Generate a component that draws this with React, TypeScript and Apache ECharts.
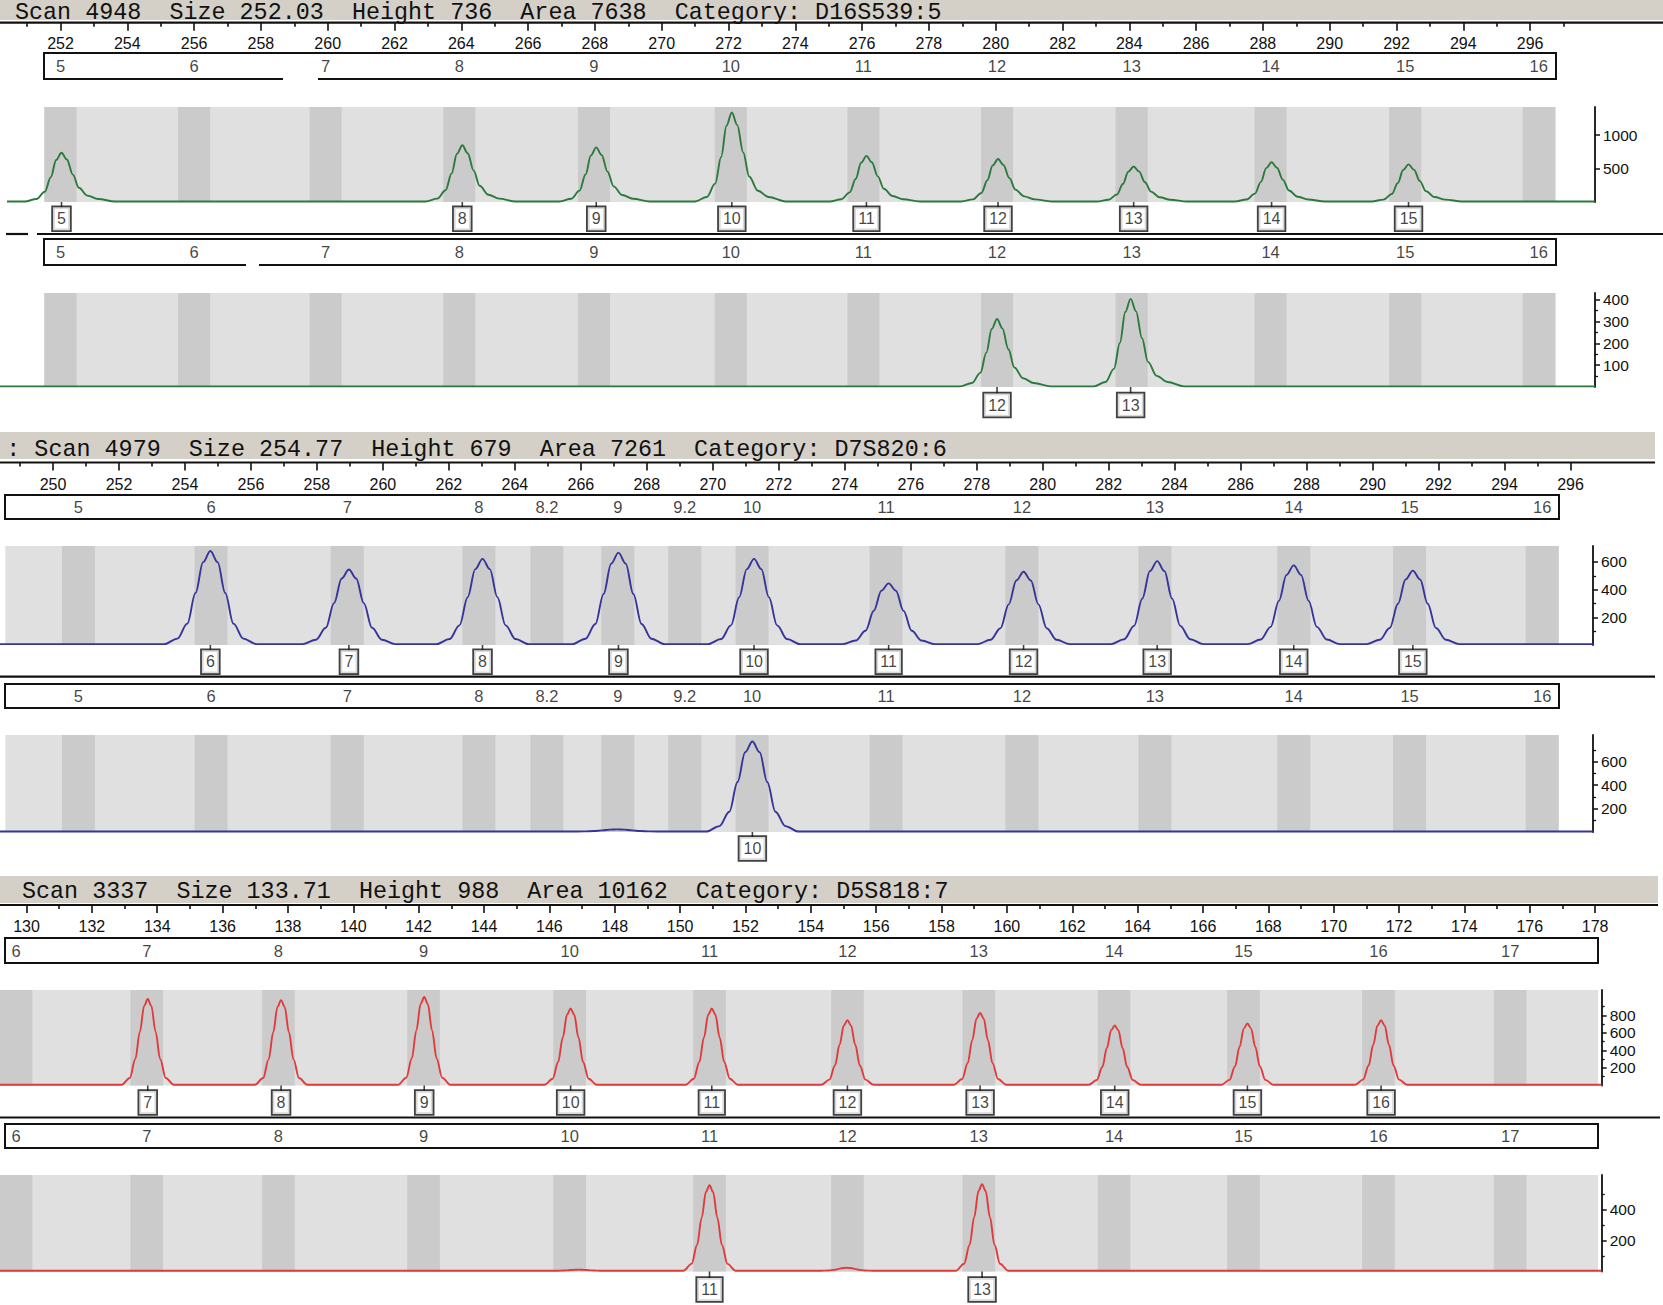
import React, { useEffect, useRef } from "react";
import * as echarts from "echarts";

const W = 1663;
const H = 1305;

// ---------------- DATA ----------------
// Panel 1 – D16S539 (green)
const P1_HEADER = "Scan 4948  Size 252.03  Height 736  Area 7638  Category: D16S539:5";
const P1_SIZE_TICKS = [252, 254, 256, 258, 260, 262, 264, 266, 268, 270, 272, 274, 276, 278, 280, 282, 284, 286, 288, 290, 292, 294, 296];
const P1_SIZE_MINOR = [251, 253, 255, 257, 259, 261, 263, 265, 267, 269, 271, 273, 275, 277, 279, 281, 283, 285, 287, 289, 291, 293, 295, 297];
const P1_BIN_NAMES = ["5", "6", "7", "8", "9", "10", "11", "12", "13", "14", "15", "16"];
const P1_BIN_SIZES = [252.0, 256.0, 259.94, 263.94, 267.97, 272.07, 276.04, 280.04, 284.07, 288.23, 292.26, 296.26];
const P1A_PEAK_NAMES = ["5", "8", "9", "10", "11", "12", "13", "14", "15"];
const P1A_PEAK_SIZES = [252.03, 264.03, 268.04, 272.1, 276.13, 280.07, 284.13, 288.26, 292.36];
const P1A_PEAK_HEIGHTS = [736, 846, 815, 1337, 688, 641, 530, 593, 561];
const P1A_Y_TICKS = [500, 1000];
const P1A_Y_MINOR: number[] = [];
const P1B_PEAK_NAMES = ["12", "13"];
const P1B_PEAK_SIZES = [280.04, 284.04];
const P1B_PEAK_HEIGHTS = [312, 404];
const P1B_Y_TICKS = [100, 200, 300, 400];
const P1B_Y_MINOR = [50, 150, 250, 350];

// Panel 2 – D7S820 (blue)
const P2_HEADER = ": Scan 4979  Size 254.77  Height 679  Area 7261  Category: D7S820:6";
const P2_SIZE_TICKS = [250, 252, 254, 256, 258, 260, 262, 264, 266, 268, 270, 272, 274, 276, 278, 280, 282, 284, 286, 288, 290, 292, 294, 296];
const P2_SIZE_MINOR = [249, 251, 253, 255, 257, 259, 261, 263, 265, 267, 269, 271, 273, 275, 277, 279, 281, 283, 285, 287, 289, 291, 293, 295];
const P2_BIN_NAMES = ["5", "6", "7", "8", "8.2", "9", "9.2", "10", "11", "12", "13", "14", "15", "16"];
const P2_BIN_SIZES = [250.77, 254.79, 258.92, 262.91, 264.97, 267.12, 269.15, 271.19, 275.25, 279.37, 283.4, 287.61, 291.12, 295.14];
const P2A_PEAK_NAMES = ["6", "7", "8", "9", "10", "11", "12", "13", "14", "15"];
const P2A_PEAK_SIZES = [254.77, 258.97, 263.02, 267.14, 271.25, 275.33, 279.42, 283.47, 287.61, 291.22];
const P2A_PEAK_HEIGHTS = [679, 545, 622, 667, 622, 445, 529, 606, 575, 537];
const P2A_Y_TICKS = [200, 400, 600];
const P2A_Y_MINOR = [100, 300, 500];
const P2B_PEAK_NAMES = ["10"];
const P2B_PEAK_SIZES = [271.2];
const P2B_PEAK_HEIGHTS = [771];
const P2B_BUMP_SIZES = [267.1];
const P2B_BUMP_HEIGHTS = [22];
const P2B_Y_TICKS = [200, 400, 600];
const P2B_Y_MINOR = [100, 300, 500, 700];

// Panel 3 – D5S818 (red)
const P3_HEADER = "Scan 3337  Size 133.71  Height 988  Area 10162  Category: D5S818:7";
const P3_SIZE_TICKS = [130, 132, 134, 136, 138, 140, 142, 144, 146, 148, 150, 152, 154, 156, 158, 160, 162, 164, 166, 168, 170, 172, 174, 176, 178];
const P3_SIZE_MINOR = [131, 133, 135, 137, 139, 141, 143, 145, 147, 149, 151, 153, 155, 157, 159, 161, 163, 165, 167, 169, 171, 173, 175, 177];
const P3_BIN_NAMES = ["6", "7", "8", "9", "10", "11", "12", "13", "14", "15", "16", "17"];
const P3_BIN_SIZES = [129.68, 133.68, 137.71, 142.15, 146.62, 150.9, 155.12, 159.14, 163.28, 167.24, 171.37, 175.4];
const P3A_PEAK_NAMES = ["7", "8", "9", "10", "11", "12", "13", "14", "15", "16"];
const P3A_PEAK_SIZES = [133.71, 137.79, 142.17, 146.65, 150.97, 155.12, 159.18, 163.3, 167.36, 171.45];
const P3A_PEAK_HEIGHTS = [988, 975, 1011, 879, 879, 745, 830, 685, 709, 745];
const P3A_Y_TICKS = [200, 400, 600, 800];
const P3A_Y_MINOR = [100, 300, 500, 700, 900];
const P3B_PEAK_NAMES = ["11", "13"];
const P3B_PEAK_SIZES = [150.9, 159.24];
const P3B_PEAK_HEIGHTS = [557, 564];
const P3B_BUMP_SIZES = [146.9, 155.1];
const P3B_BUMP_HEIGHTS = [12, 24];
const P3B_Y_TICKS = [200, 400];
const P3B_Y_MINOR = [100, 300, 500];

// Peak shapes: [offset in bp, fraction of peak height]
const GREEN_PROFILE = [[-1.1, 0], [-0.75, 0.05], [-0.5, 0.2], [-0.32, 0.5], [-0.16, 0.85], [0, 1], [0.16, 0.86], [0.34, 0.55], [0.52, 0.28], [0.78, 0.12], [1.1, 0.05], [1.6, 0]];
const BLUE_PROFILE = [[-1.4, 0], [-1.0, 0.06], [-0.7, 0.22], [-0.45, 0.55], [-0.22, 0.88], [0, 1], [0.22, 0.88], [0.45, 0.55], [0.7, 0.22], [1.0, 0.06], [1.4, 0]];
const RED_PROFILE = [[-0.8, 0], [-0.55, 0.08], [-0.38, 0.3], [-0.24, 0.62], [-0.11, 0.92], [0, 1], [0.11, 0.92], [0.24, 0.62], [0.38, 0.3], [0.55, 0.08], [0.8, 0]];

// ---------------- STYLE / LAYOUT ----------------
const AX = "#111";
const FONT = '"Liberation Sans", Arial, sans-serif';
const MONO = '23.4px "Liberation Mono", "DejaVu Sans Mono", monospace';
const BAR = "#d4d0c8";
const LIGHT = "#e0e0e0";
const DARK = "#cbcbcb";
const plain = (val: number) => String(val);

function buildTrace(start: number, end: number, base: number, sizes: number[], heights: number[], profile: number[][]) {
  const pts: number[][] = [[start, base]];
  const peaks = sizes.map((s, i) => [s, heights[i]]).sort((a, b) => a[0] - b[0]);
  for (const [s, h] of peaks) {
    for (const [dx, f] of profile) {
      const x = s + dx;
      if (x > start && x < end) pts.push([x, base + f * (h - base)]);
    }
  }
  pts.push([end, base]);
  return pts;
}

function buildOption() {
  const grid: any[] = [];
  const xAxis: any[] = [];
  const yAxis: any[] = [];
  const series: any[] = [];
  const graphic: any[] = [];

  const addGrid = (left: number, top: number, width: number, height: number, extra: any = {}) => {
    grid.push({ left, top, width, height, containLabel: false, outerBoundsMode: "none", ...extra });
    return grid.length - 1;
  };
  const hiddenX = (gi: number, min: number, max: number) => {
    xAxis.push({ gridIndex: gi, type: "value", min, max, show: false });
    return xAxis.length - 1;
  };
  const hiddenY = (gi: number, min: number, max: number) => {
    yAxis.push({ gridIndex: gi, type: "value", min, max, show: false });
    return yAxis.length - 1;
  };

  const panel = (cfg: any) => {
    const m = cfg.map;
    const v = (px: number) => m.v0 + (px - m.x0) / m.ppu;

    // header bar + text + axis line
    graphic.push({ type: "rect", z: 1, shape: { x: 0, y: cfg.barTop, width: cfg.barW, height: cfg.barBottom - cfg.barTop }, style: { fill: BAR } });
    graphic.push({ type: "text", z: 2, x: cfg.headerX, y: cfg.headerY, style: { text: cfg.header.replace(/ /g, "\u00a0"), font: MONO, fill: AX, verticalAlign: "middle", align: "left" } });
    graphic.push({ type: "line", z: 3, shape: { x1: 0, y1: cfg.axisY, x2: cfg.barW, y2: cfg.axisY }, style: { stroke: AX, lineWidth: 2.2 } });

    // size axis (ticks + labels)
    const tg = addGrid(0, cfg.axisY - 1, W, 1);
    xAxis.push({
      gridIndex: tg, type: "value", min: v(0), max: v(W), position: "bottom",
      axisLine: { show: false }, splitLine: { show: false },
      axisTick: { show: true, customValues: cfg.ticks, length: 8, lineStyle: { color: AX, width: 1.6 } },
      axisLabel: { show: true, customValues: cfg.ticks, formatter: plain, margin: cfg.labelMargin, fontSize: 16, color: AX, fontFamily: FONT },
    });
    xAxis.push({
      gridIndex: tg, type: "value", min: v(0), max: v(W), position: "bottom",
      axisLine: { show: false }, splitLine: { show: false },
      axisTick: { show: true, customValues: cfg.minor, length: 4, lineStyle: { color: AX, width: 1.6 } },
      axisLabel: { show: false },
    });
    hiddenY(tg, 0, 1);

    const binBox = (top: number, bottom: number) => {
      const gi = addGrid(cfg.binL, top, cfg.binR - cfg.binL, bottom - top, { show: true, borderColor: AX, borderWidth: 2, backgroundColor: "#fff" });
      const xi = hiddenX(gi, v(cfg.binL), v(cfg.binR));
      const yi = hiddenY(gi, 0, 1);
      series.push({
        type: "scatter", xAxisIndex: xi, yAxisIndex: yi, symbol: "circle", symbolSize: 1, silent: true, clip: false,
        itemStyle: { color: "rgba(0,0,0,0)" },
        label: { show: true, position: "inside", formatter: "{b}", fontSize: 16.5, color: AX, fontFamily: FONT },
        data: cfg.binNames.map((n: string, i: number) => ({ name: n, value: [cfg.binSizes[i], 0.5] })),
      });
    };

    const plot = (p: any) => {
      const gi = addGrid(0, p.top, cfg.yAxisX, p.bottom - p.top);
      const xi = hiddenX(gi, v(0), v(cfg.yAxisX));
      yAxis.push({
        gridIndex: gi, type: "value", min: 0, max: p.ymax, position: "right",
        axisLine: { show: true, lineStyle: { color: AX, width: 1.8 } },
        axisTick: { show: true, customValues: p.yTicks, length: 5, lineStyle: { color: AX, width: 1.5 } },
        axisLabel: { show: true, customValues: p.yTicks, formatter: plain, margin: 8, fontSize: 15.5, color: AX, fontFamily: FONT },
        splitLine: { show: false },
      });
      const yi = yAxis.length - 1;
      yAxis.push({
        gridIndex: gi, type: "value", min: 0, max: p.ymax, position: "right",
        axisLine: { show: false }, splitLine: { show: false },
        axisTick: { show: p.yMinor.length > 0, customValues: p.yMinor, length: 3, lineStyle: { color: AX, width: 1.3 } },
        axisLabel: { show: false },
      });
      const sizes = p.sizes.concat(p.bumpSizes || []);
      const heights = p.heights.concat(p.bumpHeights || []);
      const areas: any[] = [[{ xAxis: v(cfg.grayL), itemStyle: { color: LIGHT } }, { xAxis: v(cfg.grayR) }]];
      cfg.binSizes.forEach((s: number) => {
        areas.push([{ xAxis: Math.max(s - cfg.binHalf, v(cfg.grayL)), itemStyle: { color: DARK } }, { xAxis: s + cfg.binHalf }]);
      });
      series.push({
        type: "line", xAxisIndex: xi, yAxisIndex: yi, showSymbol: false, symbol: "none", silent: true,
        smooth: 0.35, smoothMonotone: "x",
        lineStyle: { color: cfg.color, width: 1.9 },
        data: buildTrace(v(p.traceStartPx), v(cfg.yAxisX), p.base, sizes, heights, cfg.profile),
        markArea: { silent: true, label: { show: false }, data: areas },
        z: 3,
      });
      // allele call boxes
      const lg = addGrid(0, p.bottom, W, p.boxTop - p.bottom);
      const lxi = hiddenX(lg, v(0), v(W));
      const lyi = hiddenY(lg, 0, 1);
      series.push({
        type: "scatter", xAxisIndex: lxi, yAxisIndex: lyi, silent: true, clip: false,
        symbol: "rect", symbolSize: [1.6, p.boxTop - p.bottom], itemStyle: { color: AX },
        label: {
          show: true, position: "bottom", distance: 0, formatter: "{b}", fontSize: 16, lineHeight: 17,
          color: AX, fontFamily: FONT, backgroundColor: "#fff", borderColor: AX, borderWidth: 1.8, padding: [3, 4, 3, 4],
        },
        data: p.names.map((n: string, i: number) => ({ name: n, value: [p.sizes[i], 0.5] })),
      });
    };

    binBox(cfg.bin1[0], cfg.bin1[1]);
    plot(cfg.plotA);
    binBox(cfg.bin2[0], cfg.bin2[1]);
    plot(cfg.plotB);
  };

  // ---------- Panel 1 ----------
  panel({
    map: { x0: 60.5, v0: 252, ppu: 33.4 },
    barTop: 0, barBottom: 20, barW: W, header: P1_HEADER, headerX: 15, headerY: 12.5,
    axisY: 22.7, labelMargin: 12.5, ticks: P1_SIZE_TICKS, minor: P1_SIZE_MINOR,
    binL: 44, binR: 1556, grayL: 44, grayR: 1556, binHalf: 0.48,
    binNames: P1_BIN_NAMES, binSizes: P1_BIN_SIZES,
    bin1: [53, 79], bin2: [239, 265], yAxisX: 1595,
    color: "#2b7a3b", profile: GREEN_PROFILE,
    plotA: { top: 107, bottom: 202, ymax: 1418, yTicks: P1A_Y_TICKS, yMinor: P1A_Y_MINOR, names: P1A_PEAK_NAMES, sizes: P1A_PEAK_SIZES, heights: P1A_PEAK_HEIGHTS, base: 8, traceStartPx: 7, boxTop: 207.3 },
    plotB: { top: 293, bottom: 387, ymax: 431, yTicks: P1B_Y_TICKS, yMinor: P1B_Y_MINOR, names: P1B_PEAK_NAMES, sizes: P1B_PEAK_SIZES, heights: P1B_PEAK_HEIGHTS, base: 3, traceStartPx: 0, boxTop: 393.5 },
  });
  graphic.push({ type: "line", z: 3, shape: { x1: 6, y1: 234, x2: 28, y2: 234 }, style: { stroke: AX, lineWidth: 2.2 } });
  graphic.push({ type: "line", z: 3, shape: { x1: 37, y1: 234, x2: W, y2: 234 }, style: { stroke: AX, lineWidth: 2.2 } });
  graphic.push({ type: "rect", z: 100, shape: { x: 283, y: 77, width: 35, height: 4 }, style: { fill: "#fff" } });
  graphic.push({ type: "rect", z: 100, shape: { x: 246, y: 263, width: 13, height: 4 }, style: { fill: "#fff" } });

  // ---------- Panel 2 ----------
  panel({
    map: { x0: 53, v0: 250, ppu: 32.99 },
    barTop: 432, barBottom: 459, barW: 1655, header: P2_HEADER, headerX: 6.3, headerY: 449.7,
    axisY: 462.5, labelMargin: 13.5, ticks: P2_SIZE_TICKS, minor: P2_SIZE_MINOR,
    binL: 5, binR: 1559, grayL: 5.3, grayR: 1559, binHalf: 0.5,
    binNames: P2_BIN_NAMES, binSizes: P2_BIN_SIZES,
    bin1: [495, 519], bin2: [684, 708], yAxisX: 1593,
    color: "#34349a", profile: BLUE_PROFILE,
    plotA: { top: 546, bottom: 645, ymax: 715, yTicks: P2A_Y_TICKS, yMinor: P2A_Y_MINOR, names: P2A_PEAK_NAMES, sizes: P2A_PEAK_SIZES, heights: P2A_PEAK_HEIGHTS, base: 6, traceStartPx: 0, boxTop: 650.2 },
    plotB: { top: 735, bottom: 832, ymax: 826, yTicks: P2B_Y_TICKS, yMinor: P2B_Y_MINOR, names: P2B_PEAK_NAMES, sizes: P2B_PEAK_SIZES, heights: P2B_PEAK_HEIGHTS, bumpSizes: P2B_BUMP_SIZES, bumpHeights: P2B_BUMP_HEIGHTS, base: 4, traceStartPx: 0, boxTop: 837 },
  });
  graphic.push({ type: "line", z: 3, shape: { x1: 0, y1: 676.7, x2: 1655, y2: 676.7 }, style: { stroke: AX, lineWidth: 2.2 } });

  // ---------- Panel 3 ----------
  panel({
    map: { x0: 26.5, v0: 130, ppu: 32.68 },
    barTop: 876, barBottom: 903, barW: 1658, header: P3_HEADER, headerX: 22, headerY: 891.5,
    axisY: 905, labelMargin: 13.5, ticks: P3_SIZE_TICKS, minor: P3_SIZE_MINOR,
    binL: 5, binR: 1598, grayL: 0, grayR: 1598, binHalf: 0.5,
    binNames: P3_BIN_NAMES, binSizes: P3_BIN_SIZES,
    bin1: [938, 963], bin2: [1124, 1148], yAxisX: 1601.7,
    color: "#e03a3a", profile: RED_PROFILE,
    plotA: { top: 990, bottom: 1085.5, ymax: 1091, yTicks: P3A_Y_TICKS, yMinor: P3A_Y_MINOR, names: P3A_PEAK_NAMES, sizes: P3A_PEAK_SIZES, heights: P3A_PEAK_HEIGHTS, base: 8, traceStartPx: 0, boxTop: 1091 },
    plotB: { top: 1175, bottom: 1271.5, ymax: 623, yTicks: P3B_Y_TICKS, yMinor: P3B_Y_MINOR, names: P3B_PEAK_NAMES, sizes: P3B_PEAK_SIZES, heights: P3B_PEAK_HEIGHTS, bumpSizes: P3B_BUMP_SIZES, bumpHeights: P3B_BUMP_HEIGHTS, base: 5, traceStartPx: 0, boxTop: 1278 },
  });
  graphic.push({ type: "line", z: 3, shape: { x1: 0, y1: 1117.5, x2: 1660, y2: 1117.5 }, style: { stroke: AX, lineWidth: 2.2 } });

  return {
    animation: false,
    backgroundColor: "#fff",
    textStyle: { fontFamily: FONT },
    grid, xAxis, yAxis, series, graphic,
  };
}

export default function App() {
  const ref = useRef<HTMLDivElement>(null);
  useEffect(() => {
    if (!ref.current) return;
    const chart = echarts.init(ref.current, undefined, { renderer: "svg", width: W, height: H });
    chart.setOption(buildOption() as any);
    return () => chart.dispose();
  }, []);
  return <div ref={ref} style={{ position: "absolute", left: 0, top: 0, width: W, height: H, background: "#fff" }} />;
}
